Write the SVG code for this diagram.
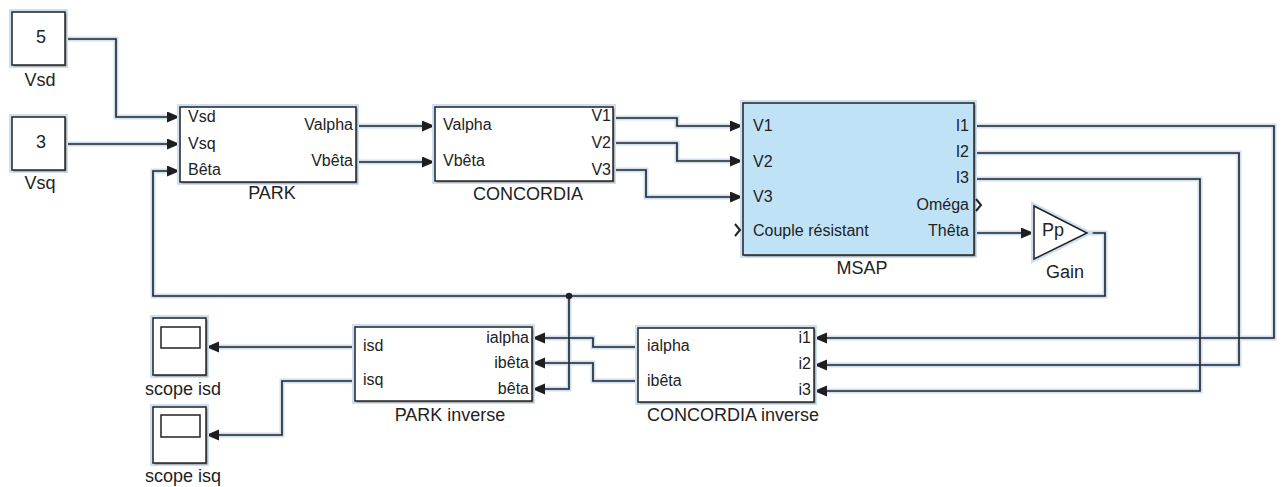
<svg xmlns="http://www.w3.org/2000/svg" width="1282" height="487" viewBox="0 0 1282 487">
<style>
  text { font-family: "Liberation Sans", Arial, sans-serif; fill: #222; }
  .p { font-size: 16px; }
  .lb { font-size: 18px; text-anchor: middle; }
  .r { text-anchor: end; }
  .halo { fill: none; stroke: #cde0f3; stroke-width: 6; }
  .sh { fill: #8a8a8a; }
  .blk { fill: #fff; stroke: #222; stroke-width: 1.5; }
  .msap { fill: #bfe2f7; stroke: #222; stroke-width: 1.5; }
  .wh { fill: none; stroke: #cde0f3; stroke-width: 5; stroke-linejoin: miter; }
  .ln { fill: none; stroke: #222; stroke-width: 1.6; stroke-linejoin: miter; }
  .ar { marker-end: url(#arr); }
</style>
<defs>
  <marker id="arr" markerUnits="userSpaceOnUse" markerWidth="14" markerHeight="12" refX="13" refY="5.5" orient="auto">
    <path d="M0,0 L13,5.5 L0,11 z" fill="#1e1e1e"/>
  </marker>
</defs>
<rect width="1282" height="487" fill="#fff"/>

<g id="connectors">
  <g id="halos">
    <path class="wh" d="M65,39 H116 V117 H168"/>
    <path class="wh" d="M65,144 H168"/>
    <path class="wh" d="M356,126 H423"/>
    <path class="wh" d="M356,162 H423"/>
    <path class="wh" d="M613,118 H677 V126 H731"/>
    <path class="wh" d="M613,143 H677 V161 H731"/>
    <path class="wh" d="M613,170 H646 V197 H731"/>
    <path class="wh" d="M974,126 H1274 V338 H826"/>
    <path class="wh" d="M974,153 H1239 V365 H826"/>
    <path class="wh" d="M974,179 H1200 V391 H826"/>
    <path class="wh" d="M974,233 H1022"/>
    <path class="wh" d="M1087,233 H1105 V296 H153 V171 H168"/>
    <path class="wh" d="M569,296 V389 H544"/>
    <path class="wh" d="M638,347 H593 V338 H544"/>
    <path class="wh" d="M638,381 H593 V363 H544"/>
    <path class="wh" d="M355,347 H218"/>
    <path class="wh" d="M355,381 H282 V435 H218"/>
  </g>
  <g id="lines">
    <path class="ln ar" d="M65,39 H116 V117 H180"/>
    <path class="ln ar" d="M65,144 H180"/>
    <path class="ln ar" d="M356,126 H435"/>
    <path class="ln ar" d="M356,162 H435"/>
    <path class="ln ar" d="M613,118 H677 V126 H743"/>
    <path class="ln ar" d="M613,143 H677 V161 H743"/>
    <path class="ln ar" d="M613,170 H646 V197 H743"/>
    <path class="ln ar" d="M974,126 H1274 V338 H814"/>
    <path class="ln ar" d="M974,153 H1239 V365 H814"/>
    <path class="ln ar" d="M974,179 H1200 V391 H814"/>
    <path class="ln ar" d="M974,233 H1034"/>
    <path class="ln ar" d="M1087,233 H1105 V296 H153 V171 H180"/>
    <path class="ln ar" d="M569,296 V389 H532"/>
    <path class="ln ar" d="M638,347 H593 V338 H532"/>
    <path class="ln ar" d="M638,381 H593 V363 H532"/>
    <path class="ln ar" d="M355,347 H206"/>
    <path class="ln ar" d="M355,381 H282 V435 H206"/>
    <circle cx="569" cy="296" r="3.2" fill="#222"/>
  </g>
</g>

<g id="const-vsd">
  <rect class="halo" x="12" y="12" width="53" height="53"/>
  <rect class="sh" x="13.5" y="13.5" width="53" height="53"/>
  <rect class="blk" x="12" y="12" width="53" height="53"/>
  <text x="41" y="43" font-size="18" text-anchor="middle">5</text>
  <text class="lb" x="40" y="86">Vsd</text>
</g>

<g id="const-vsq">
  <rect class="halo" x="12" y="117" width="53" height="53"/>
  <rect class="sh" x="13.5" y="118.5" width="53" height="53"/>
  <rect class="blk" x="12" y="117" width="53" height="53"/>
  <text x="41" y="148" font-size="18" text-anchor="middle">3</text>
  <text class="lb" x="40" y="189">Vsq</text>
</g>

<g id="park">
  <rect class="halo" x="180" y="107" width="176" height="75"/>
  <rect class="sh" x="181.5" y="108.5" width="176" height="75"/>
  <rect class="blk" x="180" y="107" width="176" height="75"/>
  <text class="p" x="188" y="122">Vsd</text>
  <text class="p" x="188" y="149">Vsq</text>
  <text class="p" x="188" y="175">Bêta</text>
  <text class="p r" x="353" y="130">Valpha</text>
  <text class="p r" x="353" y="166">Vbêta</text>
  <text class="lb" x="272" y="199">PARK</text>
</g>

<g id="concordia">
  <rect class="halo" x="435" y="107" width="178" height="74"/>
  <rect class="sh" x="436.5" y="108.5" width="178" height="74"/>
  <rect class="blk" x="435" y="107" width="178" height="74"/>
  <text class="p" x="443" y="130">Valpha</text>
  <text class="p" x="443" y="166">Vbêta</text>
  <text class="p r" x="611" y="121">V1</text>
  <text class="p r" x="611" y="148">V2</text>
  <text class="p r" x="611" y="175">V3</text>
  <text class="lb" x="528" y="200">CONCORDIA</text>
</g>

<g id="msap">
  <rect class="halo" x="743" y="103" width="231" height="152"/>
  <rect class="sh" x="744.5" y="104.5" width="231" height="152"/>
  <rect class="msap" x="743" y="103" width="231" height="152"/>
  <text class="p" x="753" y="131">V1</text>
  <text class="p" x="753" y="167">V2</text>
  <text class="p" x="753" y="202">V3</text>
  <text class="p" x="753" y="236">Couple résistant</text>
  <text class="p r" x="969" y="131">I1</text>
  <text class="p r" x="969" y="157">I2</text>
  <text class="p r" x="969" y="183">I3</text>
  <text class="p r" x="969" y="210">Oméga</text>
  <text class="p r" x="969" y="236">Thêta</text>
  <path d="M976,199 L981,205 L976,211" fill="none" stroke="#222" stroke-width="2"/>
  <path d="M735,224 L740,230 L735,236" fill="none" stroke="#222" stroke-width="2"/>
  <text class="lb" x="862" y="274">MSAP</text>
</g>

<g id="gain">
  <polygon class="halo" points="1034,206 1087,233 1034,259"/>
  <polygon class="blk" points="1034,206 1087,233 1034,259"/>
  <text x="1042" y="236" font-size="18">Pp</text>
  <text class="lb" x="1065" y="278">Gain</text>
</g>

<g id="scope-isd">
  <rect class="halo" x="153" y="318" width="53" height="57"/>
  <rect class="sh" x="154.5" y="319.5" width="53" height="57"/>
  <rect class="blk" x="153" y="318" width="53" height="57"/>
  <rect class="blk" x="161" y="327" width="39" height="21"/>
  <text class="lb" x="183" y="395">scope isd</text>
</g>

<g id="scope-isq">
  <rect class="halo" x="153" y="407" width="53" height="56"/>
  <rect class="sh" x="154.5" y="408.5" width="53" height="56"/>
  <rect class="blk" x="153" y="407" width="53" height="56"/>
  <rect class="blk" x="161" y="415" width="39" height="22"/>
  <text class="lb" x="183" y="482">scope isq</text>
</g>

<g id="park-inverse">
  <rect class="halo" x="355" y="327" width="177" height="74"/>
  <rect class="sh" x="356.5" y="328.5" width="177" height="74"/>
  <rect class="blk" x="355" y="327" width="177" height="74"/>
  <text class="p" x="363" y="351">isd</text>
  <text class="p" x="363" y="385">isq</text>
  <text class="p r" x="529" y="343">ialpha</text>
  <text class="p r" x="529" y="368">ibêta</text>
  <text class="p r" x="529" y="394">bêta</text>
  <text class="lb" x="450" y="421">PARK inverse</text>
</g>

<g id="concordia-inverse">
  <rect class="halo" x="638" y="328" width="176" height="74"/>
  <rect class="sh" x="639.5" y="329.5" width="176" height="74"/>
  <rect class="blk" x="638" y="328" width="176" height="74"/>
  <text class="p" x="647" y="351">ialpha</text>
  <text class="p" x="647" y="386">ibêta</text>
  <text class="p r" x="811" y="343">i1</text>
  <text class="p r" x="811" y="369">i2</text>
  <text class="p r" x="811" y="395">i3</text>
  <text class="lb" x="733" y="421">CONCORDIA inverse</text>
</g>
</svg>
